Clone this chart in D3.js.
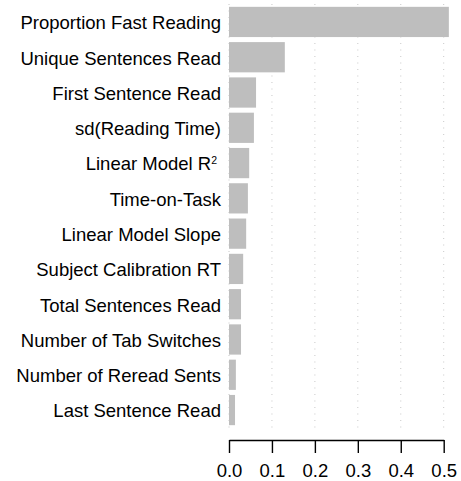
<!DOCTYPE html>
<html>
<head>
<meta charset="utf-8">
<script src="https://cdn.jsdelivr.net/npm/d3@7"></script>
<style>
  body { margin: 0; background: #fff; }
  text { font-family: "Liberation Sans", Arial, Helvetica, sans-serif; }
</style>
</head>
<body>
<div id="chart"></div>
<script>
(function() {
	// features, top to bottom
	var features = [
		"Proportion Fast Reading",
		"Unique Sentences Read",
		"First Sentence Read",
		"sd(Reading Time)",
		"Linear Model R²",
		"Time-on-Task",
		"Linear Model Slope",
		"Subject Calibration RT",
		"Total Sentences Read",
		"Number of Tab Switches",
		"Number of Reread Sents",
		"Last Sentence Read"
	];

	var importance = [0.512, 0.130, 0.063, 0.058, 0.047, 0.044, 0.040, 0.033, 0.028, 0.028, 0.016, 0.014];

	var ticks = [0.0, 0.1, 0.2, 0.3, 0.4, 0.5];
	var tickLabels = ["0.0", "0.1", "0.2", "0.3", "0.4", "0.5"];

	var width = 461, height = 481;
	var fontSize = 18.5;

	var svg = d3.select("#chart").append("svg")
				.attr("width", width)
				.attr("height", height);

	var x = d3.scaleLinear()
				.domain([0, 0.5])
				.range([229, 443.7]);

	var y = d3.scaleBand()
				.domain(features)
				.range([4, 428])
				.paddingInner(1 / 7)
				.paddingOuter(0.08);

	// dotted grid
	svg.append("g").selectAll("line")
		.data(ticks)
		.enter()
		.append("line")
		.attr("x1", function(d) { return x(d); })
		.attr("x2", function(d) { return x(d); })
		.attr("y1", 4)
		.attr("y2", 433)
		.attr("stroke", "#c8c8c8")
		.attr("stroke-width", 1)
		.attr("stroke-dasharray", "1,5.5");

	// bars
	svg.append("g").selectAll("rect")
		.data(importance)
		.enter()
		.append("rect")
		.attr("x", x(0))
		.attr("y", function(d, i) { return y(features[i]); })
		.attr("width", function(d) { return x(d) - x(0); })
		.attr("height", y.bandwidth())
		.attr("fill", "#bebebe");

	// labels
	var labels = svg.append("g").selectAll("text")
		.data(features)
		.enter()
		.append("text")
		.attr("x", 221)
		.attr("y", function(d) { return y(d) + y.bandwidth() / 2; })
		.attr("dy", "0.4em")
		.attr("text-anchor", "end")
		.attr("font-size", fontSize)
		.attr("fill", "#000");

	labels.each(function(d) {
		var t = d3.select(this);
		if (d.slice(-1) === "²") {
			t.attr("x", 217);
			t.append("tspan").text(d.slice(0, -1));
			t.append("tspan")
				.attr("font-size", 10.5)
				.attr("dy", -6)
				.text("2");
		} else {
			t.text(d);
		}
	});

	// x axis
	var axis = d3.axisBottom(x)
				.tickValues(ticks)
				.tickFormat(function(d, i) { return tickLabels[i]; })
				.tickSize(13)
				.tickSizeOuter(0)
				.tickPadding(11);

	var gAxis = svg.append("g")
		.attr("transform", "translate(0,440)")
		.call(axis);

	gAxis.select(".domain").attr("stroke-width", 1.4);
	gAxis.selectAll(".tick line").attr("stroke-width", 1.4);
	gAxis.selectAll(".tick text")
		.attr("font-size", fontSize)
		.attr("font-family", "Liberation Sans, Arial, sans-serif");
})();
</script>
</body>
</html>
